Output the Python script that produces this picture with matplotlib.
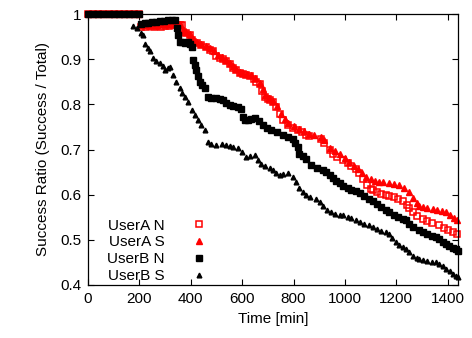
import matplotlib
matplotlib.use("Agg")
import matplotlib.pyplot as plt
from matplotlib.ticker import FuncFormatter

plt.rcParams["font.family"] = ["Liberation Sans", "DejaVu Sans"]

# UserA N  (red open squares)
a_n_x = [0, 20, 40, 60, 80, 100, 120, 140, 160, 180, 200,
         208, 225, 240, 255, 270, 286, 300, 315, 330, 345, 357, 364, 370, 383, 396,
         403, 409, 425, 441, 458, 474, 487, 500, 513, 526, 538, 551, 564, 577, 590,
         603, 616, 629, 645, 655, 668, 678, 687, 700, 707, 720, 733, 746, 760, 778,
         797, 817, 833, 849, 862, 907, 920, 940, 955, 970, 991, 1010, 1025, 1043,
         1056, 1070, 1085, 1100, 1108, 1125, 1140, 1160, 1173, 1190, 1205, 1224,
         1240, 1250, 1263, 1280, 1302, 1320, 1340, 1367, 1385, 1400, 1420, 1438]
a_n_y = [1.0, 1.0, 1.0, 1.0, 1.0, 1.0, 1.0, 1.0, 1.0, 1.0, 1.0,
         0.972, 0.972, 0.973, 0.972, 0.973, 0.972, 0.973, 0.974, 0.975, 0.976, 0.976,
         0.976, 0.961, 0.957, 0.954, 0.943, 0.939, 0.935, 0.932, 0.927, 0.921, 0.918,
         0.906, 0.902, 0.900, 0.895, 0.889, 0.880, 0.876, 0.869, 0.867, 0.865, 0.862,
         0.856, 0.850, 0.845, 0.830, 0.817, 0.812, 0.810, 0.806, 0.795, 0.778, 0.765,
         0.754, 0.748, 0.743, 0.738, 0.732, 0.729, 0.724, 0.715, 0.698, 0.690, 0.683,
         0.676, 0.670, 0.664, 0.656, 0.647, 0.635, 0.622, 0.613, 0.610, 0.605, 0.602,
         0.599, 0.598, 0.595, 0.591, 0.587, 0.578, 0.570, 0.561, 0.553, 0.547, 0.542,
         0.537, 0.532, 0.527, 0.522, 0.518, 0.513]

# UserA S  (red triangles)
a_s_x = [0, 20, 40, 60, 80, 100, 120, 140, 160, 180, 200,
         208, 225, 240, 255, 270, 286, 300, 315, 330, 345, 357, 370, 383, 396, 409,
         425, 441, 458, 474, 490, 505, 520, 538, 551, 564, 577, 590, 605, 620, 635,
         650, 668, 680, 690, 705, 720, 735, 750, 765, 780, 800, 820, 840, 860, 880,
         905, 920, 940, 960, 979, 1000, 1017, 1035, 1050, 1065, 1082, 1100, 1117,
         1134, 1150, 1170, 1190, 1212, 1230, 1250, 1265, 1280, 1289, 1305, 1320,
         1341, 1360, 1378, 1393, 1410, 1425, 1438]
a_s_y = [1.0, 1.0, 1.0, 1.0, 1.0, 1.0, 1.0, 1.0, 1.0, 1.0, 1.0,
         0.975, 0.975, 0.976, 0.976, 0.976, 0.977, 0.977, 0.978, 0.978, 0.978, 0.977,
         0.965, 0.960, 0.956, 0.944, 0.938, 0.934, 0.929, 0.924, 0.918, 0.909, 0.904,
         0.898, 0.892, 0.884, 0.879, 0.872, 0.870, 0.867, 0.864, 0.858, 0.848, 0.833,
         0.821, 0.814, 0.808, 0.797, 0.779, 0.767, 0.758, 0.751, 0.746, 0.740, 0.734,
         0.732, 0.728, 0.720, 0.704, 0.696, 0.691, 0.681, 0.672, 0.664, 0.657, 0.648,
         0.639, 0.634, 0.631, 0.628, 0.627, 0.626, 0.624, 0.621, 0.614, 0.606, 0.593,
         0.581, 0.576, 0.573, 0.571, 0.569, 0.566, 0.564, 0.561, 0.555, 0.549, 0.543]

# UserB N  (black filled squares)
b_n_x = [0, 20, 40, 60, 80, 100, 120, 140, 160, 180, 200,
         208, 220, 235, 250, 265, 280, 295, 310, 325, 338, 345, 351, 357, 367, 377,
         389, 397, 403, 409, 416, 422, 429, 435, 445, 454, 467, 480, 500, 513, 526,
         538, 551, 565, 584, 597, 603, 610, 622, 635, 648, 665, 681, 697, 713, 735,
         758, 778, 797, 807, 817, 823, 835, 849, 869, 890, 914, 925, 940, 953, 965,
         979, 991, 1010, 1025, 1043, 1060, 1075, 1095, 1108, 1125, 1140, 1160, 1173,
         1190, 1205, 1224, 1237, 1250, 1265, 1289, 1302, 1320, 1340, 1354, 1367,
         1380, 1395, 1406, 1420, 1431, 1440]
b_n_y = [1.0, 1.0, 1.0, 1.0, 1.0, 1.0, 1.0, 1.0, 1.0, 1.0, 1.0,
         0.978, 0.979, 0.980, 0.982, 0.983, 0.984, 0.985, 0.986, 0.987, 0.987, 0.970,
         0.954, 0.939, 0.937, 0.936, 0.939, 0.934, 0.928, 0.898, 0.887, 0.876, 0.862,
         0.850, 0.843, 0.836, 0.817, 0.815, 0.813, 0.812, 0.810, 0.804, 0.798, 0.797,
         0.795, 0.790, 0.772, 0.765, 0.765, 0.767, 0.769, 0.762, 0.754, 0.748, 0.743,
         0.738, 0.732, 0.728, 0.724, 0.715, 0.706, 0.691, 0.686, 0.680, 0.665, 0.660,
         0.654, 0.650, 0.643, 0.636, 0.630, 0.626, 0.619, 0.614, 0.611, 0.608, 0.603,
         0.598, 0.591, 0.587, 0.580, 0.572, 0.565, 0.561, 0.556, 0.551, 0.547, 0.543,
         0.536, 0.529, 0.521, 0.517, 0.512, 0.508, 0.506, 0.502, 0.496, 0.490, 0.487,
         0.483, 0.480, 0.476]

# UserB S  (black small triangles)
b_s_x = [0, 20, 40, 60, 80, 100, 120, 140, 160,
         175, 190, 205, 215, 221, 232, 241, 253, 265, 280, 290, 299, 310, 318, 331,
         344, 357, 367, 377, 389, 403, 415, 427, 440, 454, 466, 480, 500, 520, 538,
         551, 565, 584, 600, 616, 632, 648, 660, 674, 690, 707, 720, 733, 746, 760,
         778, 797, 810, 823, 836, 850, 865, 888, 901, 915, 930, 945, 960, 979, 991,
         1010, 1025, 1043, 1060, 1075, 1095, 1108, 1125, 1140, 1160, 1173, 1185,
         1200, 1212, 1224, 1237, 1250, 1265, 1280, 1289, 1302, 1320, 1340, 1354,
         1367, 1380, 1395, 1410, 1420, 1431, 1440]
b_s_y = [1.0, 1.0, 1.0, 1.0, 1.0, 1.0, 1.0, 1.0, 1.0,
         0.974, 0.968, 0.958, 0.953, 0.934, 0.925, 0.917, 0.903, 0.897, 0.892, 0.884,
         0.876, 0.880, 0.883, 0.865, 0.850, 0.836, 0.826, 0.817, 0.806, 0.787, 0.776,
         0.765, 0.754, 0.743, 0.717, 0.713, 0.710, 0.712, 0.710, 0.707, 0.706, 0.704,
         0.694, 0.684, 0.686, 0.687, 0.676, 0.669, 0.664, 0.658, 0.654, 0.647, 0.643,
         0.645, 0.647, 0.640, 0.628, 0.615, 0.606, 0.600, 0.595, 0.591, 0.584, 0.575,
         0.567, 0.561, 0.558, 0.556, 0.554, 0.551, 0.548, 0.545, 0.540, 0.536, 0.532,
         0.528, 0.524, 0.519, 0.517, 0.513, 0.505, 0.495, 0.489, 0.484, 0.480, 0.472,
         0.465, 0.460, 0.458, 0.456, 0.454, 0.451, 0.451, 0.447, 0.442, 0.436, 0.430,
         0.425, 0.421, 0.418]

x_ticks = [0, 200, 400, 600, 800, 1000, 1200, 1400]
y_ticks = [0.4, 0.5, 0.6, 0.7, 0.8, 0.9, 1.0]

fig = plt.figure(figsize=(4.72, 3.38), dpi=100)
ax = fig.add_axes([88 / 472, 1 - 285 / 338, 370 / 472, 271 / 338])

ax.plot(a_n_x, a_n_y, ls="none", marker="s", ms=4.8, mfc="none", mec="red",
        mew=1.1, label="UserA N", clip_on=False)
ax.plot(a_s_x, a_s_y, ls="none", marker="^", ms=4.6, color="red",
        label="UserA S", clip_on=False)
ax.plot(b_n_x, b_n_y, ls="none", marker="s", ms=5.0, color="black",
        label="UserB N", clip_on=False)
ax.plot(b_s_x, b_s_y, ls="none", marker="^", ms=3.4, color="black",
        label="UserB S", clip_on=False)

ax.set_xlim(0, 1440)
ax.set_ylim(0.4, 1.0)
ax.set_xticks(x_ticks)
ax.set_yticks(y_ticks)
ax.yaxis.set_major_formatter(FuncFormatter(lambda v, p: "%g" % round(v, 2)))
ax.tick_params(direction="in", top=True, right=True, length=4, width=0.8,
               labelsize=11, pad=5)
for s in ax.spines.values():
    s.set_linewidth(0.9)

ax.set_xlabel("Time [min]", fontsize=11, labelpad=4)
ax.set_ylabel("Success Ratio (Success / Total)", fontsize=11, labelpad=7)

ax.legend(loc="lower left", frameon=False, markerfirst=False, fontsize=11,
          handlelength=2.9, handletextpad=0.8, labelspacing=0.18,
          borderaxespad=0.0, bbox_to_anchor=(0.035, -0.015))

fig.savefig("out.png", dpi=100)
